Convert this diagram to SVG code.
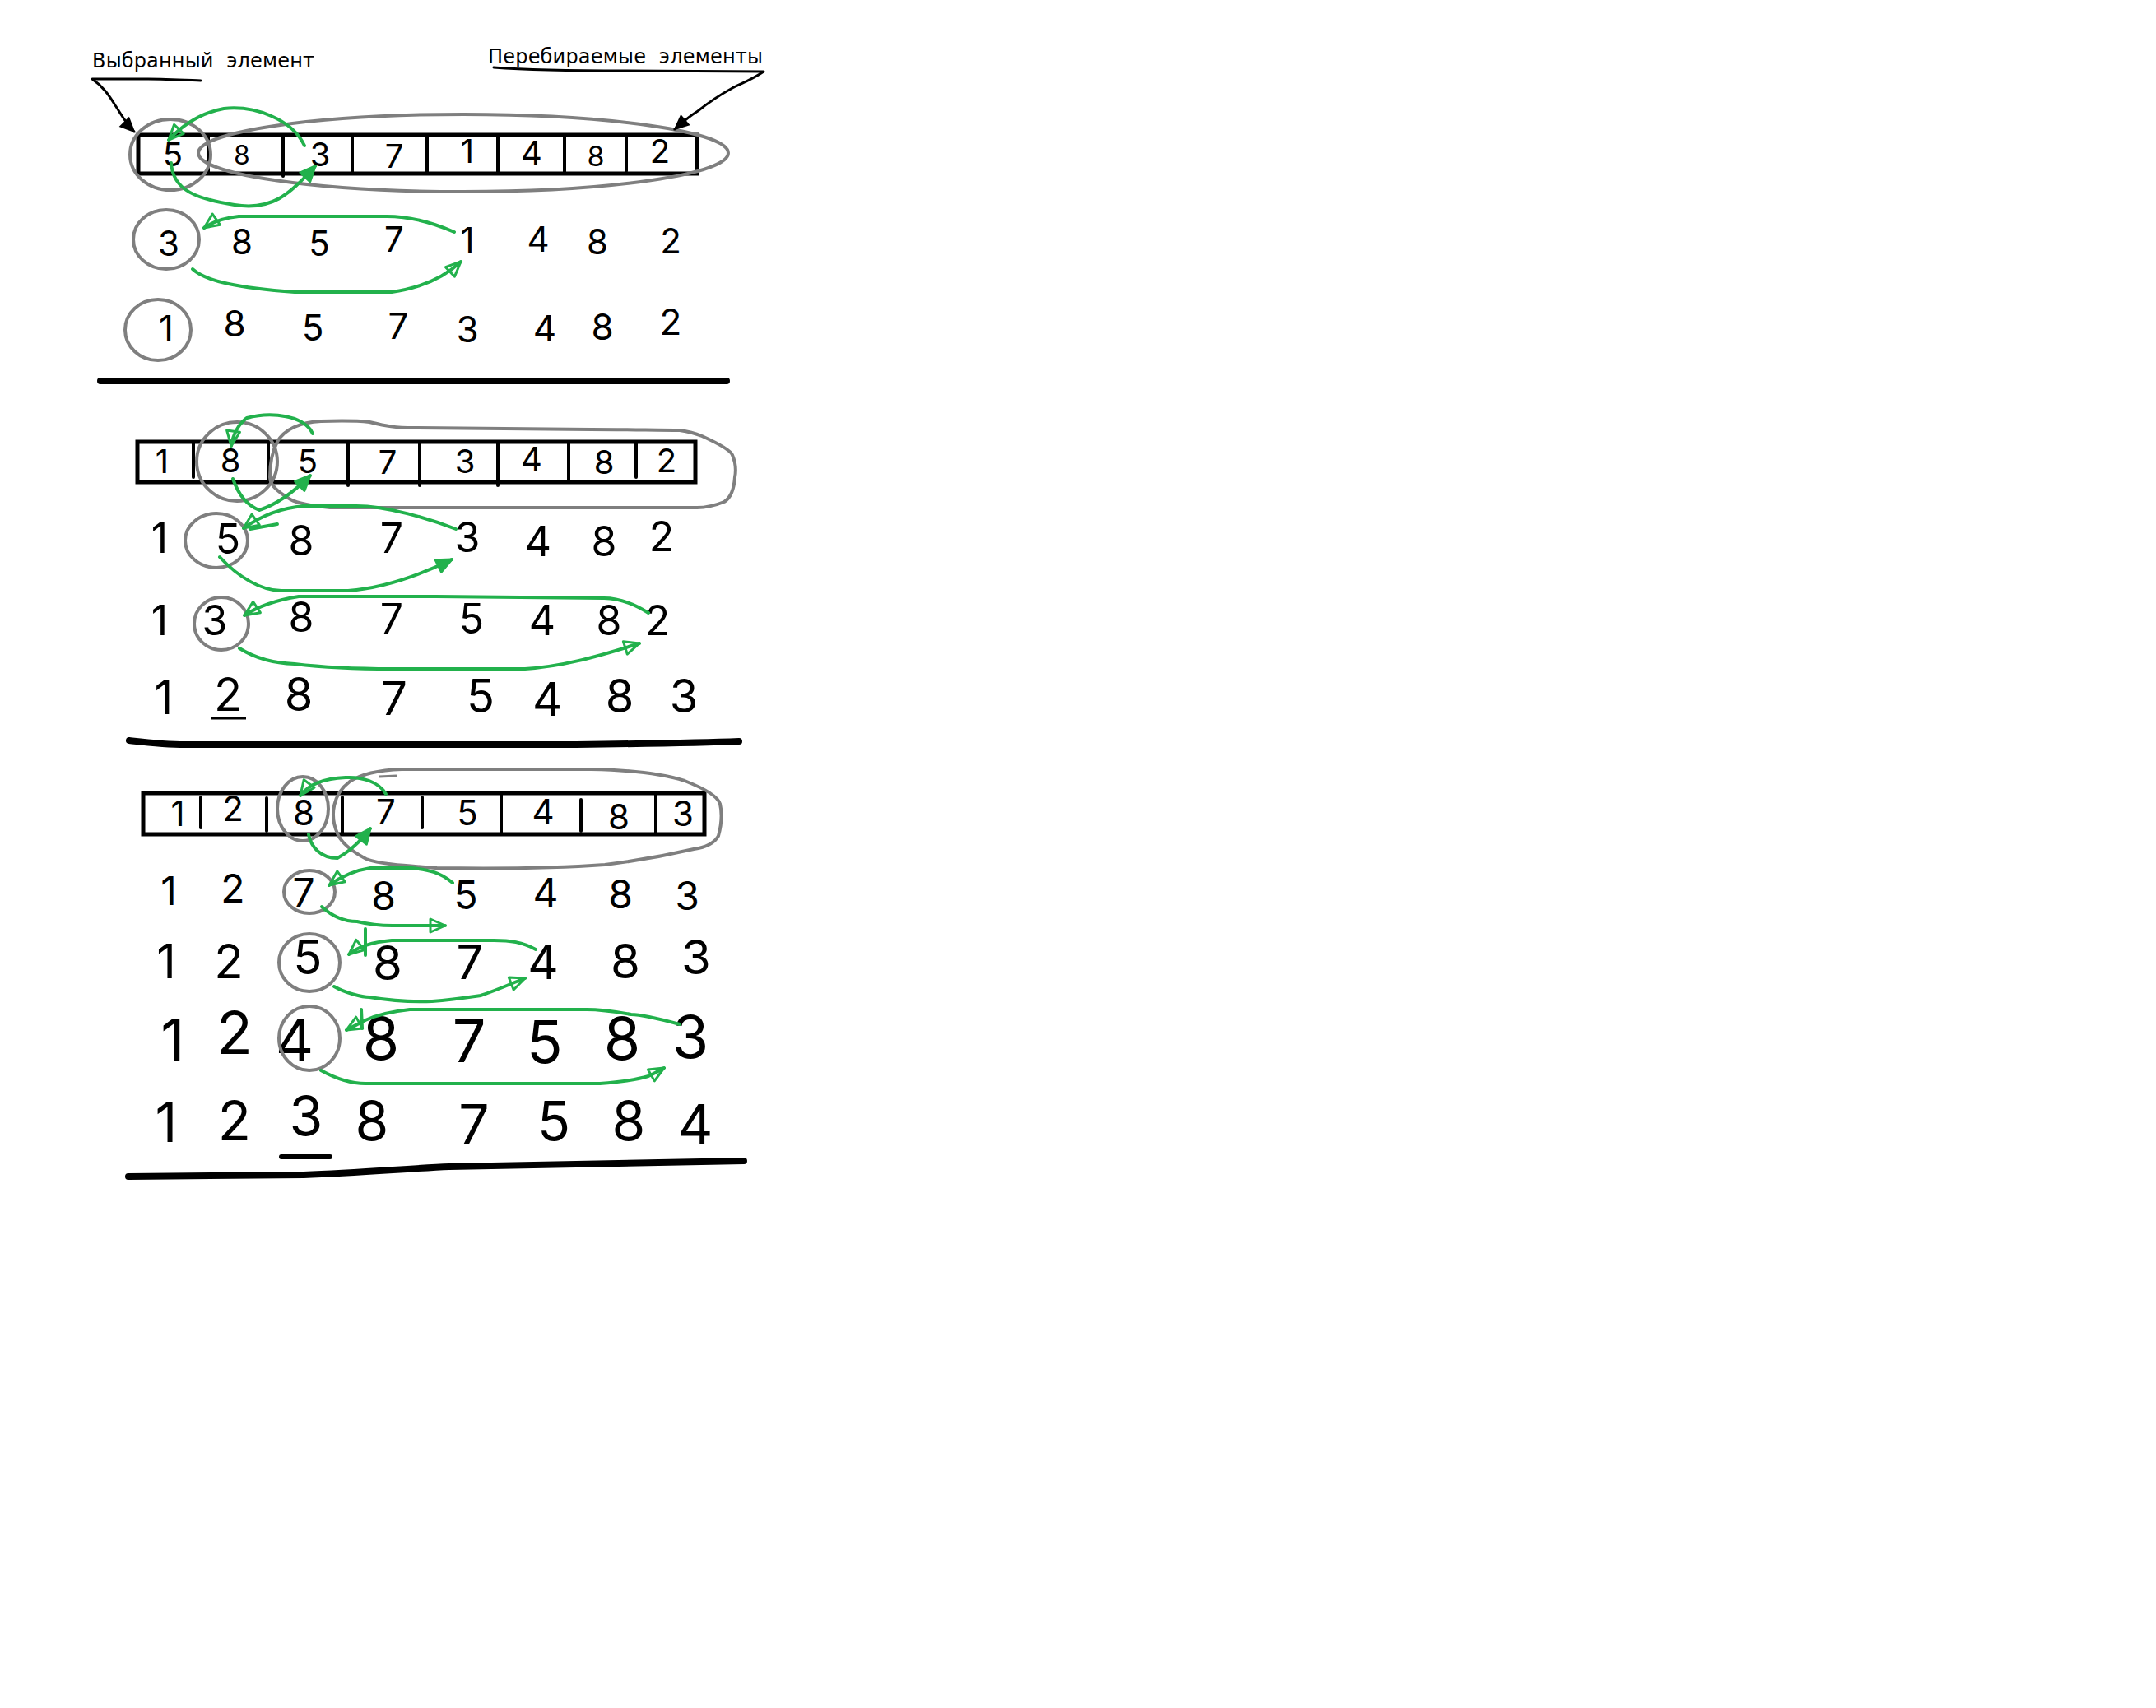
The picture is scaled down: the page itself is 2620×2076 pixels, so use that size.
<svg xmlns="http://www.w3.org/2000/svg" width="2620" height="2076" viewBox="0 0 2620 2076">
<style>
.bg{fill:#fff}
.box{fill:none;stroke:#000;stroke-width:5}
.dv{stroke:#000;stroke-width:4;stroke-linecap:round}
.sel{fill:none;stroke:#7f7f7f;stroke-width:4}
.g{fill:none;stroke:#22b14c;stroke-width:4;stroke-linecap:round;stroke-linejoin:round}
.k{fill:none;stroke:#000;stroke-width:3;stroke-linecap:round;stroke-linejoin:round}
.sep{fill:none;stroke:#000;stroke-width:8;stroke-linecap:round;stroke-linejoin:round}
.d{font-family:Inter,"DejaVu Sans",sans-serif;font-weight:400;text-anchor:middle;fill:#000}
.lbl{font-family:"DejaVu Sans",sans-serif;font-size:24px;fill:#000;white-space:pre}
</style>
<defs>
<marker id="ah" viewBox="-3 -3 26 22" refX="18" refY="8" markerWidth="26" markerHeight="22" markerUnits="userSpaceOnUse" orient="auto">
<path d="M0,0 L18,8 L0,16 Z" fill="none" stroke="#22b14c" stroke-width="3" stroke-linejoin="round"/>
</marker>
<marker id="ahf" viewBox="-3 -3 26 22" refX="18" refY="8" markerWidth="26" markerHeight="22" markerUnits="userSpaceOnUse" orient="auto">
<path d="M0,0 L18,8 L0,16 Z" fill="#22b14c" stroke="#22b14c" stroke-width="3" stroke-linejoin="round"/>
</marker>
<marker id="bk" viewBox="-3 -3 26 22" refX="18" refY="8" markerWidth="24" markerHeight="20" markerUnits="userSpaceOnUse" orient="auto">
<path d="M0,0 L18,8 L0,16 Z" fill="#000" stroke="#000" stroke-width="2"/>
</marker>
</defs>
<rect class="bg" x="0" y="0" width="2620" height="2076"/>

<g id="labels">
<text class="lbl" x="112" y="82" xml:space="preserve" textLength="270">Выбранный  элемент</text>
<text class="lbl" x="593" y="77" xml:space="preserve" textLength="334">Перебираемые  элементы</text>
</g>

<!-- Section 1 -->
<g id="s1-array">
<rect class="box" x="168" y="164" width="679" height="47"/>
<line class="dv" x1="253" y1="164" x2="253" y2="211"/>
<line class="dv" x1="344" y1="164" x2="344" y2="214"/>
<line class="dv" x1="428" y1="164" x2="428" y2="211"/>
<line class="dv" x1="519" y1="164" x2="519" y2="211"/>
<line class="dv" x1="605" y1="164" x2="605" y2="211"/>
<line class="dv" x1="686" y1="164" x2="686" y2="211"/>
<line class="dv" x1="761" y1="164" x2="761" y2="208"/>
<g class="d" font-size="40">
<text x="210" y="202">5</text><text x="294" y="200" font-size="32">8</text><text x="389" y="202">3</text><text x="479" y="204">7</text><text x="568" y="198">1</text><text x="646" y="200">4</text><text x="724" y="202" font-size="34">8</text><text x="802" y="198">2</text>
</g>
<ellipse class="sel" cx="207" cy="188" rx="49" ry="43"/>
<ellipse class="sel" cx="563" cy="186" rx="322" ry="47"/>
</g>

<g id="s1-row2">
<g class="d" font-size="42">
<text x="205" y="311">3</text><text x="294" y="309">8</text><text x="388" y="311">5</text><text x="479" y="306">7</text><text x="568" y="307">1</text><text x="654" y="306">4</text><text x="726" y="309">8</text><text x="815" y="308">2</text>
</g>
<ellipse class="sel" cx="202" cy="291" rx="40" ry="36"/>
</g>

<g id="s1-row3">
<g class="d" font-size="44">
<text x="202" y="415">1</text><text x="285" y="409">8</text><text x="380" y="414">5</text><text x="484" y="412">7</text><text x="568" y="416">3</text><text x="662" y="415">4</text><text x="732" y="413">8</text><text x="815" y="407">2</text>
</g>
<ellipse class="sel" cx="192" cy="401" rx="40" ry="37"/>
</g>
<path id="s1-sep" class="sep" d="M122,463 L883,463"/>

<!-- Section 2 -->
<g id="s2-array">
<rect class="box" x="167" y="537" width="678" height="49"/>
<line class="dv" x1="235" y1="537" x2="235" y2="580"/>
<line class="dv" x1="326" y1="537" x2="326" y2="586"/>
<line class="dv" x1="423" y1="537" x2="423" y2="590"/>
<line class="dv" x1="510" y1="537" x2="510" y2="590"/>
<line class="dv" x1="605" y1="537" x2="605" y2="590"/>
<line class="dv" x1="691" y1="537" x2="691" y2="586"/>
<line class="dv" x1="773" y1="537" x2="773" y2="580"/>
<g class="d" font-size="40">
<text x="197" y="575">1</text><text x="280" y="574">8</text><text x="374" y="575">5</text><text x="471" y="576">7</text><text x="565" y="575">3</text><text x="646" y="572">4</text><text x="734" y="576">8</text><text x="810" y="574">2</text>
</g>
<ellipse class="sel" cx="288" cy="561" rx="49" ry="48"/>
<path class="sel" d="M337,537 C345,522 365,513 390,512 C420,511 440,512 449,513 C470,518 480,520 503,520 L718,522 C760,522 800,523 826,523 C840,525 848,528 853,530 C875,540 888,548 890,553 C895,565 894,575 893,580 C892,595 888,605 880,610 C870,614 860,617 847,617 L401,617 C380,615 362,612 353,607 C338,598 328,590 328,580 C328,565 330,550 337,537 Z"/>
</g>

<g id="s2-row2">
<g class="d" font-size="50">
<text x="194" y="672">1</text><text x="277" y="673">5</text><text x="366" y="675">8</text><text x="476" y="672">7</text><text x="568" y="671">3</text><text x="654" y="676">4</text><text x="734" y="676">8</text><text x="804" y="670">2</text>
</g>
<ellipse class="sel" cx="263" cy="657" rx="38" ry="33"/>
</g>

<g id="s2-row3">
<g class="d" font-size="50">
<text x="194" y="772">1</text><text x="261" y="772">3</text><text x="366" y="768">8</text><text x="476" y="770">7</text><text x="573" y="770">5</text><text x="659" y="772">4</text><text x="740" y="772">8</text><text x="799" y="772">2</text>
</g>
<ellipse class="sel" cx="269" cy="758" rx="33" ry="32"/>
</g>

<g id="s2-row4">
<g class="d" font-size="56">
<text x="199" y="868">1</text><text x="277" y="864">2</text><text x="363" y="864">8</text><text x="479" y="869">7</text><text x="584" y="866">5</text><text x="665" y="870">4</text><text x="753" y="866">8</text><text x="831" y="866">3</text>
</g>
<line x1="256" y1="873" x2="299" y2="873" stroke="#000" stroke-width="3"/>
</g>
<path id="s2-sep" class="sep" d="M157,900 C175,902 200,905 225,905 L700,905 C780,904 850,903 898,901"/>

<!-- Section 3 -->
<g id="s3-array">
<rect class="box" x="174" y="964" width="682" height="50"/>
<line class="dv" x1="244" y1="969" x2="244" y2="1006"/>
<line class="dv" x1="324" y1="970" x2="324" y2="1010"/>
<line class="dv" x1="416" y1="969" x2="416" y2="1012"/>
<line class="dv" x1="513" y1="969" x2="513" y2="1006"/>
<line class="dv" x1="609" y1="964" x2="609" y2="1014"/>
<line class="dv" x1="706" y1="972" x2="706" y2="1010"/>
<line class="dv" x1="797" y1="964" x2="797" y2="1014"/>
<g class="d" font-size="42">
<text x="216" y="1004">1</text><text x="283" y="998">2</text><text x="369" y="1003">8</text><text x="469" y="1002">7</text><text x="568" y="1003">5</text><text x="660" y="1002">4</text><text x="752" y="1008">8</text><text x="830" y="1004">3</text>
</g>
<ellipse class="sel" cx="368" cy="983" rx="31" ry="39"/>
<path class="sel" d="M410,1013 C400,990 405,965 425,950 C440,940 460,936 488,935 L719,935 C770,936 810,942 832,949 C855,958 872,967 875,977 C878,990 876,1005 873,1016 C868,1025 857,1030 843,1032 C800,1042 760,1048 735,1051 C680,1055 600,1056 531,1055 C490,1052 460,1050 445,1044 C428,1035 415,1025 410,1013 Z"/>
<line x1="461" y1="944" x2="482" y2="943" stroke="#7f7f7f" stroke-width="3"/>
</g>

<g id="s3-row2">
<g class="d" font-size="48">
<text x="205" y="1100">1</text><text x="283" y="1097">2</text><text x="369" y="1102">7</text><text x="466" y="1106">8</text><text x="566" y="1105">5</text><text x="663" y="1102">4</text><text x="754" y="1104">8</text><text x="835" y="1106">3</text>
</g>
<ellipse class="sel" cx="376" cy="1084" rx="31" ry="26"/>
</g>

<g id="s3-row3">
<g class="d" font-size="58">
<text x="202" y="1189">1</text><text x="278" y="1189">2</text><text x="374" y="1184">5</text><text x="471" y="1191">8</text><text x="571" y="1190">7</text><text x="660" y="1190">4</text><text x="760" y="1189">8</text><text x="846" y="1184">3</text>
</g>
<ellipse class="sel" cx="376" cy="1170" rx="37" ry="35"/>
</g>

<g id="s3-row4">
<g class="d" font-size="72">
<text x="210" y="1290">1</text><text x="285" y="1281">2</text><text x="358" y="1290">4</text><text x="463" y="1288">8</text><text x="570" y="1291">7</text><text x="662" y="1292">5</text><text x="756" y="1288">8</text><text x="839" y="1286">3</text>
</g>
<ellipse class="sel" cx="376" cy="1262" rx="37" ry="39"/>
</g>

<g id="s3-row5">
<g class="d" font-size="66">
<text x="202" y="1388">1</text><text x="285" y="1386">2</text><text x="372" y="1380">3</text><text x="452" y="1386">8</text><text x="576" y="1390">7</text><text x="673" y="1386">5</text><text x="764" y="1386">8</text><text x="845" y="1390">4</text>
</g>
<line x1="342" y1="1406" x2="401" y2="1406" stroke="#000" stroke-width="6" stroke-linecap="round"/>
</g>
<path id="s3-sep" class="sep" d="M156,1430 L369,1428 C440,1425 500,1420 546,1418 L904,1411"/>

<g id="connectors">
<!-- label pointers -->
<path class="k" d="M244,98 C220,97 200,96 180,96 L112,96 C125,105 132,115 140,128 C148,140 153,150 163,160" marker-end="url(#bk)"/>
<path class="k" d="M600,82 C640,85 700,86 760,86 L928,87 C915,96 900,102 890,107 C870,118 858,127 848,135 C835,143 828,150 820,157" marker-end="url(#bk)"/>
<!-- section 1 -->
<path class="g" d="M370,177 C355,145 310,128 272,132 C245,137 222,152 205,170" marker-end="url(#ah)"/>
<path class="g" d="M208,198 C210,232 240,242 285,249 C330,256 350,238 383,202" marker-end="url(#ahf)"/>
<path class="g" d="M552,282 C520,268 490,263 470,263 L290,263 C272,265 258,270 248,277" marker-end="url(#ah)"/>
<path class="g" d="M234,327 C250,342 290,350 358,355 L476,355 C512,350 540,337 560,318" marker-end="url(#ah)"/>
<!-- section 2 -->
<path class="g" d="M380,527 C370,505 330,500 300,508 C290,515 283,528 281,542" marker-end="url(#ah)"/>
<path class="g" d="M283,582 C290,602 302,615 315,620 C340,612 360,595 377,578" marker-end="url(#ahf)"/>
<path class="g" d="M554,643 C520,630 470,615 433,615 L369,615 C345,617 320,625 296,642" marker-end="url(#ah)"/>
<path class="g" d="M337,637 L304,643"/>
<path class="g" d="M267,677 C290,702 318,718 342,718 L423,718 C462,715 502,703 549,680" marker-end="url(#ahf)"/>
<path class="g" d="M788,745 C772,735 752,727 734,727 L530,725 L363,725 C332,730 312,738 297,748" marker-end="url(#ah)"/>
<path class="g" d="M291,788 C310,800 330,806 358,807 C400,812 440,813 476,813 L638,813 C682,810 720,800 777,782" marker-end="url(#ah)"/>
<!-- section 3 -->
<path class="g" d="M469,965 C460,950 440,944 420,945 C395,946 376,952 365,967" marker-end="url(#ah)"/>
<path class="g" d="M375,1014 C378,1030 390,1043 410,1043 C425,1035 440,1020 450,1007" marker-end="url(#ahf)"/>
<path class="g" d="M550,1073 C535,1060 520,1057 500,1055 L450,1055 C430,1058 415,1065 400,1076" marker-end="url(#ah)"/>
<path class="g" d="M391,1102 C405,1115 420,1120 434,1120 C450,1124 460,1125 477,1125 L541,1125" marker-end="url(#ah)"/>
<path class="g" d="M651,1154 C635,1145 620,1143 600,1143 L476,1143 C452,1145 436,1150 424,1160" marker-end="url(#ah)"/>
<path class="g" d="M444,1129 L444,1161"/>
<path class="g" d="M406,1199 C420,1207 440,1212 449,1212 C480,1217 500,1218 525,1217 C550,1215 570,1212 584,1210 C605,1203 620,1196 638,1189" marker-end="url(#ah)"/>
<path class="g" d="M826,1245 C800,1238 780,1233 767,1233 C750,1230 730,1227 713,1227 L498,1227 C470,1230 455,1235 444,1240 C435,1245 428,1248 421,1252" marker-end="url(#ah)"/>
<path class="g" d="M439,1227 L440,1250"/>
<path class="g" d="M390,1301 C410,1312 430,1317 444,1317 L729,1317 C755,1315 775,1312 788,1308 C795,1305 800,1302 807,1298" marker-end="url(#ah)"/>
</g>
</svg>
